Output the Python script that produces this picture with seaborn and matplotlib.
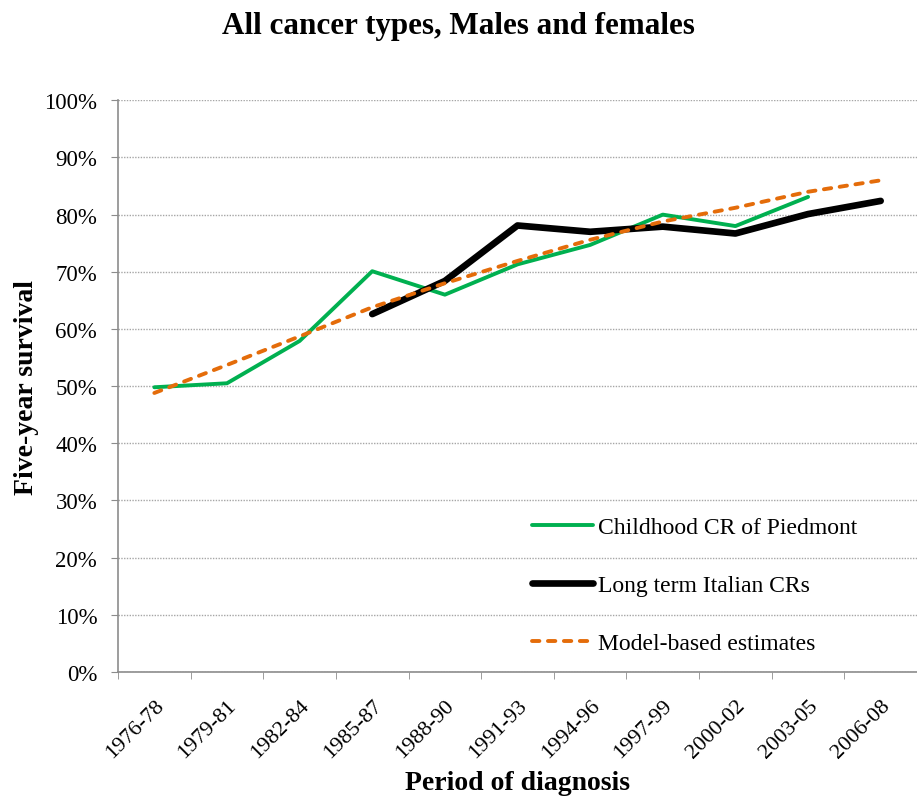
import numpy as np
import pandas as pd
import matplotlib
matplotlib.use("Agg")
import matplotlib.pyplot as plt
from matplotlib.ticker import FuncFormatter, FixedLocator
import seaborn as sns

# Data (five-year survival, %)
periods = ["1976-78", "1979-81", "1982-84", "1985-87", "1988-90", "1991-93",
           "1994-96", "1997-99", "2000-02", "2003-05", "2006-08"]
piedmont = [49.8, 50.5, 57.9, 70.1, 66.0, 71.3, 74.7, 80.0, 78.0, 83.1, np.nan]
italian = [np.nan, np.nan, np.nan, 62.6, 68.4, 78.1, 77.0, 77.9, 76.7, 80.1, 82.4]
model = [48.8, 53.7, 58.7, 63.8, 68.0, 71.9, 75.6, 78.8, 81.2, 84.0, 86.0]

df = pd.DataFrame({"pos": np.arange(len(periods)), "period": periods,
                   "piedmont": piedmont, "italian": italian, "model": model})

sns.set_style("white")
plt.rcParams["font.family"] = ["Liberation Serif", "DejaVu Serif"]
plt.rcParams.update({"text.color": "black", "axes.labelcolor": "black",
                     "xtick.labelcolor": "black", "ytick.labelcolor": "black"})

fig = plt.figure(figsize=(9.17, 8.04), dpi=100)
ax = fig.add_axes([0.1287, 0.163, 0.8713, 0.711])

sns.lineplot(data=df, x="pos", y="piedmont", ax=ax, color="#00B050", lw=2.8,
             label="Childhood CR of Piedmont")
sns.lineplot(data=df, x="pos", y="italian", ax=ax, color="black", lw=4.8,
             label="Long term Italian CRs", solid_capstyle="round")
sns.lineplot(data=df, x="pos", y="model", ax=ax, color="#E46C0A", lw=2.8,
             label="Model-based estimates", dashes=(1.9, 2.2),
             dash_capstyle="round")

ax.set_xlim(-0.5, len(periods) - 0.5)
ax.set_ylim(0, 100)
ax.yaxis.set_major_locator(FixedLocator(np.arange(0, 101, 10)))
ax.yaxis.set_major_formatter(FuncFormatter(lambda v, p: f"{v:.0f}%"))
ax.grid(axis="y", color="#a6a6a6", linestyle=(0, (1, 1)), lw=1)
ax.set_axisbelow(True)

ax.set_xticks(np.arange(len(periods)))
ax.set_xticklabels(periods, rotation=45, ha="right", rotation_mode="anchor",
                   fontsize=16)
ax.tick_params(axis="x", length=0, pad=17, labelcolor="black")
ax.set_xticks(np.arange(len(periods) + 1) - 0.5, minor=True)
ax.tick_params(axis="x", which="minor", length=5, color="#8c8c8c", direction="out", bottom=True)
ax.tick_params(axis="y", labelsize=16.5, length=5, pad=10, color="#8c8c8c",
               labelcolor="black", direction="out", left=True)

for s in ["top", "right"]:
    ax.spines[s].set_visible(False)
for s in ["left", "bottom"]:
    ax.spines[s].set_color("#8c8c8c")
    ax.spines[s].set_linewidth(1.2)

ax.set_xlabel("Period of diagnosis", fontsize=20, fontweight="bold", labelpad=6)
ax.set_ylabel("Five-year survival", fontsize=20, fontweight="bold", labelpad=4)
fig.suptitle("All cancer types, Males and females", fontsize=22.4, fontweight="bold",
             y=0.985)

ax.legend(loc="upper left", bbox_to_anchor=(0.518, 0.272), frameon=False,
          borderpad=0, borderaxespad=0,
          fontsize=17, labelspacing=1.55, handlelength=2.6, handletextpad=0.2)

fig.savefig("out.png", dpi=100)
